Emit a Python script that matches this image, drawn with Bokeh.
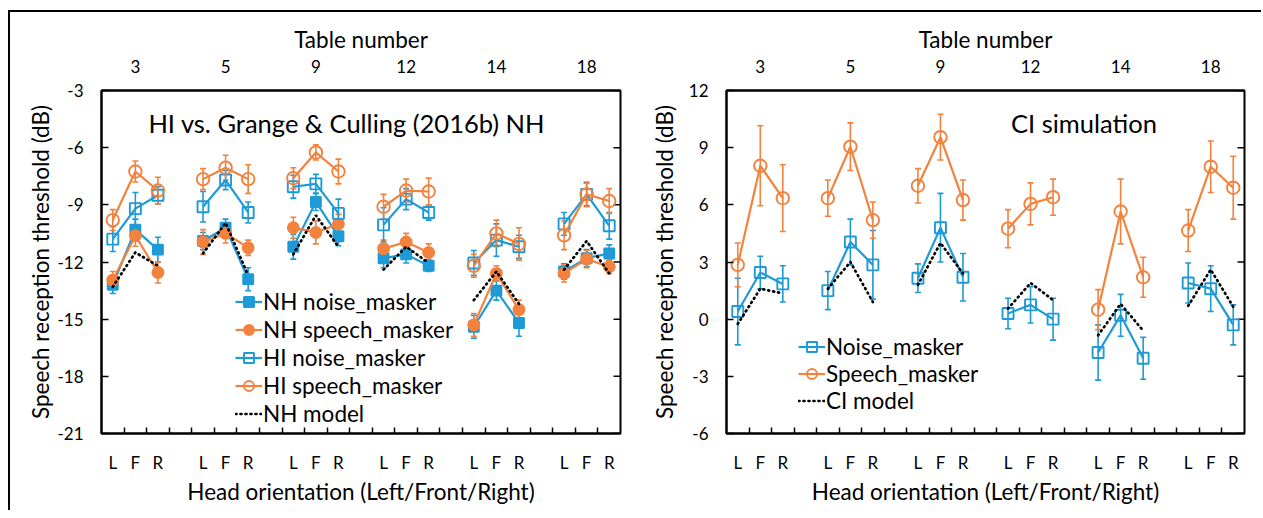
import math
from bokeh.plotting import figure
from bokeh.models import (Range1d, LinearAxis, FixedTicker, Whisker, TeeHead,
                          ColumnDataSource, Legend, LegendItem, Label)
from bokeh.layouts import row
from bokeh.embed import file_html
from bokeh.resources import INLINE

FONT = "Lato"
BLUE = "#1E9AD6"
ORANGE = "#F2823D"

# ---------------- data ----------------
tables = ["3", "5", "9", "12", "14", "18"]
orients = ["L", "F", "R"]

# Left panel: HI vs. Grange & Culling (2016b) NH
nh_noise = [-13.2, -10.3, -11.35, -10.9, -10.2, -12.9, -11.2, -8.85, -10.65,
            -11.8, -11.6, -12.2, -15.4, -13.5, -15.2, -12.5, -11.8, -11.55]
nh_noise_err = [0.45, 0.55, 0.65, 0.45, 0.45, 0.6, 0.65, 0.45, 0.5,
                0.5, 0.45, 0.3, 0.6, 0.5, 0.7, 0.4, 0.45, 0.45]
nh_speech = [-12.95, -10.62, -12.55, -10.95, -10.5, -11.25, -10.2, -10.45, -10.0,
             -11.3, -10.95, -11.5, -15.3, -12.6, -14.5, -12.6, -11.85, -12.25]
nh_speech_err = [0.45, 0.55, 0.55, 0.65, 0.5, 0.4, 0.55, 0.6, 0.5,
                 0.45, 0.45, 0.45, 0.6, 0.4, 0.5, 0.45, 0.45, 0.35]
hi_noise = [-10.8, -9.2, -8.5, -9.1, -7.7, -9.4, -8.05, -7.9, -9.45,
            -10.05, -8.7, -9.4, -12.05, -10.85, -11.2, -10.0, -8.45, -10.1]
hi_noise_err = [0.65, 0.85, 0.45, 0.8, 0.5, 0.55, 0.6, 0.5, 0.75,
                0.9, 0.55, 0.4, 0.65, 0.85, 0.6, 0.6, 0.6, 0.7]
hi_speech = [-9.8, -7.25, -8.25, -7.65, -7.05, -7.65, -7.6, -6.25, -7.25,
             -9.1, -8.25, -8.3, -12.2, -10.5, -11.05, -10.6, -8.45, -8.8]
hi_speech_err = [0.55, 0.55, 0.7, 0.55, 0.65, 0.75, 0.55, 0.4, 0.65,
                 0.65, 0.6, 0.7, 0.6, 0.7, 0.85, 0.75, 0.65, 0.65]
nh_model = [-13.3, -11.5, -12.2, -11.55, -9.95, -12.7, -11.6, -9.55, -11.2,
            -12.4, -11.2, -12.05, -14.0, -12.5, -14.2, -12.4, -10.9, -12.6]

# Right panel: CI simulation
ci_noise = [0.4, 2.45, 1.85, 1.5, 4.05, 2.85, 2.15, 4.8, 2.2,
            0.3, 0.75, 0.0, -1.75, 0.2, -2.05, 1.9, 1.6, -0.3]
ci_noise_err = [1.75, 0.85, 0.95, 1.0, 1.2, 1.8, 0.75, 1.8, 1.25,
                0.8, 0.95, 1.1, 1.45, 1.1, 1.1, 1.05, 1.2, 1.05]
ci_speech = [2.85, 8.05, 6.35, 6.35, 9.05, 5.2, 7.0, 9.55, 6.25,
             4.75, 6.05, 6.4, 0.5, 5.65, 2.2, 4.65, 8.0, 6.9]
ci_speech_err = [1.15, 2.1, 1.75, 0.95, 1.25, 0.95, 0.9, 1.2, 1.05,
                 1.0, 1.1, 0.95, 1.05, 1.7, 1.05, 1.1, 1.35, 1.65]
ci_model = [-0.25, 1.6, 1.35, 1.6, 3.0, 0.9, 1.8, 4.0, 2.4,
            0.55, 1.9, 1.0, -0.85, 0.8, -0.6, 0.7, 2.6, 0.65]

left_yticks = [-3, -6, -9, -12, -15, -18, -21]
right_yticks = [12, 9, 6, 3, 0, -3, -6]

# category -> numeric position (3 orientations per table, one empty slot between tables)
x_pos = [4 * t + o + 1 for t in range(len(tables)) for o in range(len(orients))]
x_lab = {x: orients[i % 3] for i, x in enumerate(x_pos)}
table_pos = [4 * t + 2 for t in range(len(tables))]
table_lab = {x: tables[i] for i, x in enumerate(table_pos)}
minor = [x + 0.5 for x in range(1, 23)]
X_LO, X_HI = 0.5, 23.5

FIG_H = 498
MB_TOP = 78
MB_BOTTOM = FIG_H - MB_TOP - 343


def make_fig(ylo, yhi, yticks, width, mbl, mbr, ylabel_standoff):
    p = figure(width=width, height=FIG_H, x_range=Range1d(X_LO, X_HI), y_range=Range1d(ylo, yhi),
               output_backend="svg", toolbar_location=None,
               x_axis_location=None, y_axis_location=None,
               min_border_left=mbl, min_border_right=mbr,
               min_border_top=MB_TOP, min_border_bottom=MB_BOTTOM)
    p.grid.visible = False
    p.outline_line_color = "black"
    p.outline_line_width = 2
    p.background_fill_color = "white"
    p.border_fill_color = "white"

    common = dict(axis_line_width=2, axis_line_color="black",
                  major_tick_line_width=1.5, minor_tick_line_width=1.5,
                  major_label_text_font=FONT, major_label_text_font_size="17px",
                  major_label_text_color="black",
                  axis_label_text_font=FONT, axis_label_text_font_size="22.5px",
                  axis_label_text_font_style="normal", axis_label_text_color="black")

    yl = LinearAxis(ticker=FixedTicker(ticks=yticks), axis_label="Speech reception threshold (dB)",
                    major_label_overrides={t: str(t) for t in yticks},
                    major_tick_in=7, major_tick_out=0, minor_tick_in=0, minor_tick_out=0,
                    major_label_standoff=18, axis_label_standoff=ylabel_standoff, **common)
    p.add_layout(yl, "left")
    xb = LinearAxis(ticker=FixedTicker(ticks=x_pos, minor_ticks=minor),
                    major_label_overrides=x_lab, axis_label="Head orientation (Left/Front/Right)",
                    major_tick_in=0, major_tick_out=0, minor_tick_in=6, minor_tick_out=0,
                    major_label_standoff=18, axis_label_standoff=2, **common)
    p.add_layout(xb, "below")
    xt = LinearAxis(ticker=FixedTicker(ticks=table_pos), major_label_overrides=table_lab,
                    axis_label="Table number", major_tick_in=0, major_tick_out=0,
                    minor_tick_in=0, minor_tick_out=0,
                    major_label_standoff=18, axis_label_standoff=4, **common)
    p.add_layout(xt, "above")
    # inward tick marks on the right edge of the frame
    p.ray(x=[X_HI] * len(yticks), y=yticks, length=7, length_units="screen",
          angle=math.pi, line_color="black", line_width=1.5)
    return p


def draw_series(p, y, err, color, marker, filled, size):
    gx = [x_pos[i:i + 3] for i in range(0, len(x_pos), 3)]
    gy = [y[i:i + 3] for i in range(0, len(y), 3)]
    ln = p.multi_line(gx, gy, line_color=color, line_width=2.2)
    src = ColumnDataSource(dict(x=x_pos,
                                lower=[a - e for a, e in zip(y, err)],
                                upper=[a + e for a, e in zip(y, err)]))
    w = Whisker(source=src, base="x", lower="lower", upper="upper",
                line_color=color, line_width=1.6,
                upper_head=TeeHead(size=6, line_color=color, line_width=1.6),
                lower_head=TeeHead(size=6, line_color=color, line_width=1.6))
    p.add_layout(w)
    sc = p.scatter(x_pos, y, marker=marker, size=size, line_color=color, line_width=1.9,
                   fill_color=color if filled else None,
                   fill_alpha=1.0 if filled else 0.0)
    return [ln, sc]


def draw_model(p, y):
    gx = [x_pos[i:i + 3] for i in range(0, len(x_pos), 3)]
    gy = [y[i:i + 3] for i in range(0, len(y), 3)]
    return [p.multi_line(gx, gy, line_color="black", line_width=2.7,
                         line_dash="1 4", line_cap="round")]


def make_legend(items, loc, spacing):
    return Legend(items=items, location=loc, label_text_font=FONT, label_text_font_size="22.5px",
                  label_text_color="black", glyph_width=27, glyph_height=25, label_height=25,
                  label_standoff=1, spacing=spacing, padding=0, margin=0,
                  border_line_color=None, background_fill_alpha=0)


# ---------------- left panel ----------------
W1 = 635
p1 = make_fig(-21, -3, left_yticks, W1, 91, W1 - 91 - 519, 0)
r_nhn = draw_series(p1, nh_noise, nh_noise_err, BLUE, "square", True, 10)
r_nhs = draw_series(p1, nh_speech, nh_speech_err, ORANGE, "circle", True, 11)
r_hin = draw_series(p1, hi_noise, hi_noise_err, BLUE, "square", False, 11)
r_his = draw_series(p1, hi_speech, hi_speech_err, ORANGE, "circle", False, 12.5)
r_nhm = draw_model(p1, nh_model)
p1.add_layout(make_legend([
    LegendItem(label="NH noise_masker", renderers=r_nhn),
    LegendItem(label="NH speech_masker", renderers=r_nhs),
    LegendItem(label="HI noise_masker", renderers=r_hin),
    LegendItem(label="HI speech_masker", renderers=r_his),
    LegendItem(label="NH model", renderers=r_nhm),
], (134, 6), 1))
p1.add_layout(Label(x=11.37, y=-4.73, text="HI vs. Grange & Culling (2016b) NH",
                    text_align="center", text_baseline="middle",
                    text_font=FONT, text_font_size="25.5px", text_color="black"))

# ---------------- right panel ----------------
W2 = 616
p2 = make_fig(-6, 12, right_yticks, W2, 81, W2 - 81 - 518, 8)
r_cin = draw_series(p2, ci_noise, ci_noise_err, BLUE, "square", False, 11)
r_cis = draw_series(p2, ci_speech, ci_speech_err, ORANGE, "circle", False, 12.5)
r_cim = draw_model(p2, ci_model)
p2.add_layout(make_legend([
    LegendItem(label="Noise_masker", renderers=r_cin),
    LegendItem(label="Speech_masker", renderers=r_cis),
    LegendItem(label="CI model", renderers=r_cim),
], (72, 19), 0))
p2.add_layout(Label(x=16.37, y=10.32, text="CI simulation",
                    text_align="center", text_baseline="middle",
                    text_font=FONT, text_font_size="25.5px", text_color="black"))

layout = row(p1, p2, styles={"border-top": "2px solid black",
                             "border-left": "2px solid black",
                             "margin-top": "10px",
                             "margin-left": "8px"})

open("out.html", "w").write(file_html(layout, INLINE))
